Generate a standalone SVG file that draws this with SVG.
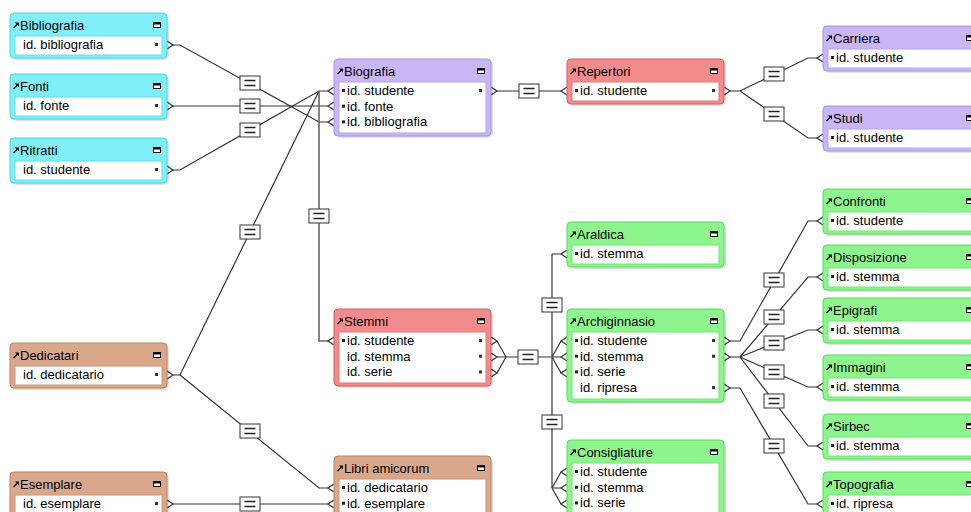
<svg xmlns="http://www.w3.org/2000/svg" xmlns:xlink="http://www.w3.org/1999/xlink" width="971" height="512" viewBox="0 0 971 512">
<style>
text{font-family:"Liberation Sans",Arial,sans-serif;font-size:13px;fill:#000}
.sh{fill:#000;opacity:.12}
.box{stroke-width:1}
.fld{fill:#fff;stroke-width:1}
.cyan .box{fill:#80eff7;stroke:#4ad8e4}.cyan .fld{stroke:#5fe2eb}
.purple .box{fill:#c9b7f5;stroke:#a68fe6}.purple .fld{stroke:#b7a2ee}
.red .box{fill:#f28b8b;stroke:#d85f5f}.red .fld{stroke:#e87777}
.brown .box{fill:#d9a88c;stroke:#b9825f}.brown .fld{stroke:#c99475}
.green .box{fill:#8ef58e;stroke:#57dc57}.green .fld{stroke:#6fe86f}
.cn path{fill:none;stroke:#333;stroke-width:1.2}
.cn path.v{stroke:#666;stroke-width:1.6}
.eqr{fill:#fff;stroke:#333;stroke-width:1}
.eql{fill:none;stroke:#222;stroke-width:1.3}
</style>
<defs>
<g id="arr"><path d="M3.5,15 L7.5,11" stroke="#000" stroke-width="1.3" fill="none"/><path d="M5,9.5 H9 V13.5 Z" fill="#000"/></g>
<g id="min"><rect x="143.5" y="9.5" width="7" height="5" fill="#fff" stroke="#000"/><rect x="143.5" y="9.5" width="7" height="2" fill="#000"/></g>
<rect id="key" x="145" y="-1.5" width="3" height="3" fill="#333"/>
<rect id="mk" x="8" y="-1.5" width="3" height="3" fill="#222"/>
<path id="cin" d="M6,-4 L0,0 L6,4" fill="none" stroke="#333" stroke-width="1.2"/>
<path id="cout" d="M-6,-4 L0,0 L-6,4" fill="none" stroke="#333" stroke-width="1.2"/>
<g id="eq"><rect class="eqr" x="-10" y="-7" width="20" height="14"/><path class="eql" d="M-5.5,-2.5 H5.5 M-5.5,2.5 H5.5"/></g>
</defs>
<rect width="971" height="512" fill="#fff"/>

<g id="connectors" class="cn">
<path d="M173,45 H180 L319,122 H328"/>
<path d="M173,106 H328"/>
<path d="M173,170 H180 L319,91 H328"/>
<path d="M173,375 H180 L319,91"/>
<path class="v" d="M319,91 V341 H328"/>
<path d="M180,375 L319,488 H328"/>
<path d="M173,504 H328"/>
<path d="M497,91 H561"/>
<path d="M730,91 H740 L808,58 H817 M740,91 L808,138 H817"/>
<path d="M497,341 L506,357 M497,357 H552 M497,373 L506,357"/>
<path class="v" d="M552,254 V488"/>
<path d="M552,254 H561 M552,357 L561,341 M552,357 H561 M552,357 L561,373 M552,488 L561,472 M552,488 H561 M552,488 L561,504"/>
<path d="M730,341 H740 L808,221 H817"/>
<path d="M730,357 H740 L808,277 H817 M740,357 L808,330 H817 M740,357 L808,387 H817 M740,357 L808,446 H817"/>
<path d="M730,388 H740 L808,504 H817"/>
<use href="#cout" x="173" y="45"/><use href="#cout" x="173" y="106"/><use href="#cout" x="173" y="170"/><use href="#cout" x="173" y="375"/><use href="#cout" x="173" y="504"/>
<use href="#cout" x="497" y="91"/><use href="#cout" x="730" y="91"/>
<use href="#cout" x="497" y="341"/><use href="#cout" x="497" y="357"/><use href="#cout" x="497" y="373"/>
<use href="#cout" x="730" y="341"/><use href="#cout" x="730" y="357"/><use href="#cout" x="730" y="388"/>
<use href="#cin" x="328" y="91"/><use href="#cin" x="328" y="106"/><use href="#cin" x="328" y="122"/><use href="#cin" x="328" y="341"/><use href="#cin" x="328" y="488"/><use href="#cin" x="328" y="504"/>
<use href="#cin" x="561" y="91"/><use href="#cin" x="561" y="254"/><use href="#cin" x="561" y="341"/><use href="#cin" x="561" y="357"/><use href="#cin" x="561" y="373"/><use href="#cin" x="561" y="472"/><use href="#cin" x="561" y="488"/><use href="#cin" x="561" y="504"/>
<use href="#cin" x="817" y="58"/><use href="#cin" x="817" y="138"/><use href="#cin" x="817" y="221"/><use href="#cin" x="817" y="277"/><use href="#cin" x="817" y="330"/><use href="#cin" x="817" y="387"/><use href="#cin" x="817" y="446"/><use href="#cin" x="817" y="504"/>
<use href="#eq" x="250" y="83"/><use href="#eq" x="250" y="106"/><use href="#eq" x="250" y="130"/><use href="#eq" x="250" y="232"/><use href="#eq" x="250" y="431"/><use href="#eq" x="250" y="504"/>
<use href="#eq" x="319" y="216"/><use href="#eq" x="529" y="91"/><use href="#eq" x="528" y="357"/><use href="#eq" x="552" y="305"/><use href="#eq" x="552" y="422"/>
<use href="#eq" x="774" y="74"/><use href="#eq" x="774" y="114"/><use href="#eq" x="774" y="280"/><use href="#eq" x="774" y="317"/><use href="#eq" x="774" y="343"/><use href="#eq" x="774" y="372"/><use href="#eq" x="774" y="401"/><use href="#eq" x="774" y="446"/>
</g>

<g id="n-bibliografia" class="node cyan" transform="translate(10,13)">
<rect class="sh" x="2" y="2" width="157" height="45" rx="5"/><rect class="box" width="157" height="45" rx="4"/><rect class="fld" x="5" y="23" width="147" height="19"/>
<use href="#arr"/><use href="#min"/><text x="10" y="16.5">Bibliografia</text>
<text x="13" y="36">id. bibliografia</text><use href="#key" y="31.5"/>
</g>
<g id="n-fonti" class="node cyan" transform="translate(10,74)">
<rect class="sh" x="2" y="2" width="157" height="45" rx="5"/><rect class="box" width="157" height="45" rx="4"/><rect class="fld" x="5" y="23" width="147" height="19"/>
<use href="#arr"/><use href="#min"/><text x="10" y="16.5">Fonti</text>
<text x="13" y="36">id. fonte</text><use href="#key" y="31.5"/>
</g>
<g id="n-ritratti" class="node cyan" transform="translate(10,138)">
<rect class="sh" x="2" y="2" width="157" height="45" rx="5"/><rect class="box" width="157" height="45" rx="4"/><rect class="fld" x="5" y="23" width="147" height="19"/>
<use href="#arr"/><use href="#min"/><text x="10" y="16.5">Ritratti</text>
<text x="13" y="36">id. studente</text><use href="#key" y="31.5"/>
</g>
<g id="n-dedicatari" class="node brown" transform="translate(10,343)">
<rect class="sh" x="2" y="2" width="157" height="45" rx="5"/><rect class="box" width="157" height="45" rx="4"/><rect class="fld" x="5" y="23" width="147" height="19"/>
<use href="#arr"/><use href="#min"/><text x="10" y="16.5">Dedicatari</text>
<text x="13" y="36">id. dedicatario</text><use href="#key" y="31.5"/>
</g>
<g id="n-esemplare" class="node brown" transform="translate(10,472)">
<rect class="sh" x="2" y="2" width="157" height="45" rx="5"/><rect class="box" width="157" height="45" rx="4"/><rect class="fld" x="5" y="23" width="147" height="19"/>
<use href="#arr"/><use href="#min"/><text x="10" y="16.5">Esemplare</text>
<text x="13" y="36">id. esemplare</text><use href="#key" y="31.5"/>
</g>
<g id="n-biografia" class="node purple" transform="translate(334,59)">
<rect class="sh" x="2" y="2" width="157" height="77" rx="5"/><rect class="box" width="157" height="77" rx="4"/><rect class="fld" x="5" y="23" width="147" height="51"/>
<use href="#arr"/><use href="#min"/><text x="10" y="16.5">Biografia</text>
<use href="#mk" y="31.5"/><text x="13" y="36">id. studente</text><use href="#key" y="31.5"/>
<use href="#mk" y="47.2"/><text x="13" y="51.7">id. fonte</text>
<use href="#mk" y="62.9"/><text x="13" y="67.4">id. bibliografia</text>
</g>
<g id="n-stemmi" class="node red" transform="translate(334,309)">
<rect class="sh" x="2" y="2" width="157" height="77" rx="5"/><rect class="box" width="157" height="77" rx="4"/><rect class="fld" x="5" y="23" width="147" height="51"/>
<use href="#arr"/><use href="#min"/><text x="10" y="16.5">Stemmi</text>
<use href="#mk" y="31.5"/><text x="13" y="36">id. studente</text><use href="#key" y="31.5"/>
<text x="13" y="51.7">id. stemma</text><use href="#key" y="47.2"/>
<text x="13" y="67.4">id. serie</text><use href="#key" y="62.9"/>
</g>
<g id="n-libri-amicorum" class="node brown" transform="translate(334,456)">
<rect class="sh" x="2" y="2" width="157" height="77" rx="5"/><rect class="box" width="157" height="77" rx="4"/><rect class="fld" x="5" y="23" width="147" height="51"/>
<use href="#arr"/><use href="#min"/><text x="10" y="16.5">Libri amicorum</text>
<use href="#mk" y="31.5"/><text x="13" y="36">id. dedicatario</text>
<use href="#mk" y="47.2"/><text x="13" y="51.7">id. esemplare</text>
</g>
<g id="n-repertori" class="node red" transform="translate(567,59)">
<rect class="sh" x="2" y="2" width="157" height="45" rx="5"/><rect class="box" width="157" height="45" rx="4"/><rect class="fld" x="5" y="23" width="147" height="19"/>
<use href="#arr"/><use href="#min"/><text x="10" y="16.5">Repertori</text>
<use href="#mk" y="31.5"/><text x="13" y="36">id. studente</text><use href="#key" y="31.5"/>
</g>
<g id="n-araldica" class="node green" transform="translate(567,222)">
<rect class="sh" x="2" y="2" width="157" height="45" rx="5"/><rect class="box" width="157" height="45" rx="4"/><rect class="fld" x="5" y="23" width="147" height="19"/>
<use href="#arr"/><use href="#min"/><text x="10" y="16.5">Araldica</text>
<use href="#mk" y="31.5"/><text x="13" y="36">id. stemma</text>
</g>
<g id="n-archiginnasio" class="node green" transform="translate(567,309)">
<rect class="sh" x="2" y="2" width="157" height="93" rx="5"/><rect class="box" width="157" height="93" rx="4"/><rect class="fld" x="5" y="23" width="147" height="67"/>
<use href="#arr"/><use href="#min"/><text x="10" y="16.5">Archiginnasio</text>
<use href="#mk" y="31.5"/><text x="13" y="36">id. studente</text><use href="#key" y="31.5"/>
<use href="#mk" y="47.2"/><text x="13" y="51.7">id. stemma</text><use href="#key" y="47.2"/>
<use href="#mk" y="62.9"/><text x="13" y="67.4">id. serie</text>
<text x="13" y="83.1">id. ripresa</text><use href="#key" y="78.6"/>
</g>
<g id="n-consigliature" class="node green" transform="translate(567,440)">
<rect class="sh" x="2" y="2" width="157" height="93" rx="5"/><rect class="box" width="157" height="93" rx="4"/><rect class="fld" x="5" y="23" width="147" height="67"/>
<use href="#arr"/><use href="#min"/><text x="10" y="16.5">Consigliature</text>
<use href="#mk" y="31.5"/><text x="13" y="36">id. studente</text>
<use href="#mk" y="47.2"/><text x="13" y="51.7">id. stemma</text>
<use href="#mk" y="62.9"/><text x="13" y="67.4">id. serie</text>
</g>
<g id="n-carriera" class="node purple" transform="translate(823,26)">
<rect class="sh" x="2" y="2" width="157" height="45" rx="5"/><rect class="box" width="157" height="45" rx="4"/><rect class="fld" x="5" y="23" width="147" height="19"/>
<use href="#arr"/><use href="#min"/><text x="10" y="16.5">Carriera</text>
<use href="#mk" y="31.5"/><text x="13" y="36">id. studente</text>
</g>
<g id="n-studi" class="node purple" transform="translate(823,106)">
<rect class="sh" x="2" y="2" width="157" height="45" rx="5"/><rect class="box" width="157" height="45" rx="4"/><rect class="fld" x="5" y="23" width="147" height="19"/>
<use href="#arr"/><use href="#min"/><text x="10" y="16.5">Studi</text>
<use href="#mk" y="31.5"/><text x="13" y="36">id. studente</text>
</g>
<g id="n-confronti" class="node green" transform="translate(823,189)">
<rect class="sh" x="2" y="2" width="157" height="45" rx="5"/><rect class="box" width="157" height="45" rx="4"/><rect class="fld" x="5" y="23" width="147" height="19"/>
<use href="#arr"/><use href="#min"/><text x="10" y="16.5">Confronti</text>
<use href="#mk" y="31.5"/><text x="13" y="36">id. studente</text>
</g>
<g id="n-disposizione" class="node green" transform="translate(823,245)">
<rect class="sh" x="2" y="2" width="157" height="45" rx="5"/><rect class="box" width="157" height="45" rx="4"/><rect class="fld" x="5" y="23" width="147" height="19"/>
<use href="#arr"/><use href="#min"/><text x="10" y="16.5">Disposizione</text>
<use href="#mk" y="31.5"/><text x="13" y="36">id. stemma</text>
</g>
<g id="n-epigrafi" class="node green" transform="translate(823,298)">
<rect class="sh" x="2" y="2" width="157" height="45" rx="5"/><rect class="box" width="157" height="45" rx="4"/><rect class="fld" x="5" y="23" width="147" height="19"/>
<use href="#arr"/><use href="#min"/><text x="10" y="16.5">Epigrafi</text>
<use href="#mk" y="31.5"/><text x="13" y="36">id. stemma</text>
</g>
<g id="n-immagini" class="node green" transform="translate(823,355)">
<rect class="sh" x="2" y="2" width="157" height="45" rx="5"/><rect class="box" width="157" height="45" rx="4"/><rect class="fld" x="5" y="23" width="147" height="19"/>
<use href="#arr"/><use href="#min"/><text x="10" y="16.5">Immagini</text>
<use href="#mk" y="31.5"/><text x="13" y="36">id. stemma</text>
</g>
<g id="n-sirbec" class="node green" transform="translate(823,414)">
<rect class="sh" x="2" y="2" width="157" height="45" rx="5"/><rect class="box" width="157" height="45" rx="4"/><rect class="fld" x="5" y="23" width="147" height="19"/>
<use href="#arr"/><use href="#min"/><text x="10" y="16.5">Sirbec</text>
<use href="#mk" y="31.5"/><text x="13" y="36">id. stemma</text>
</g>
<g id="n-topografia" class="node green" transform="translate(823,472)">
<rect class="sh" x="2" y="2" width="157" height="45" rx="5"/><rect class="box" width="157" height="45" rx="4"/><rect class="fld" x="5" y="23" width="147" height="19"/>
<use href="#arr"/><use href="#min"/><text x="10" y="16.5">Topografia</text>
<use href="#mk" y="31.5"/><text x="13" y="36">id. ripresa</text>
</g>
</svg>
